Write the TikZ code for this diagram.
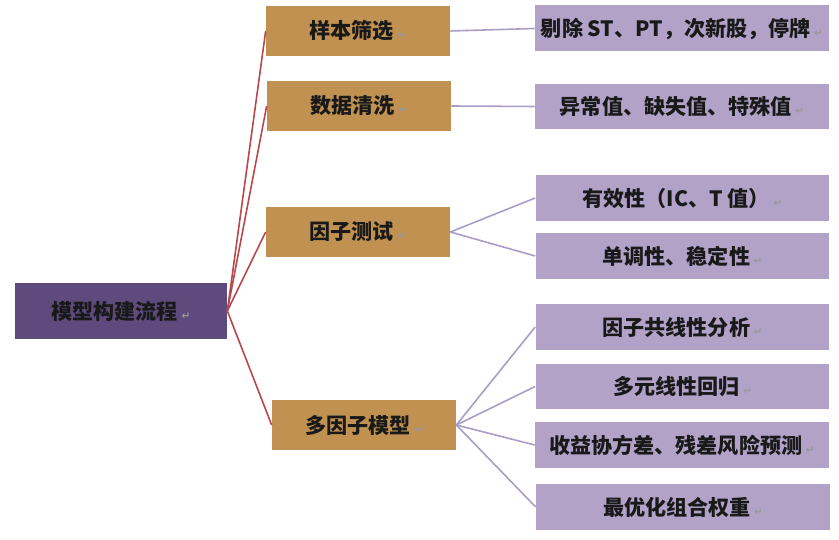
\documentclass[tikz,border=0pt]{standalone}
\usepackage{fontspec}
\setmainfont{Noto Sans CJK SC}
\newfontfamily\markfont{DejaVu Sans}
\definecolor{RootClr}{RGB}{94,74,124}
\definecolor{StepClr}{RGB}{192,145,80}
\definecolor{ItemClr}{RGB}{178,162,200}
\definecolor{TrunkClr}{RGB}{184,71,75}
\definecolor{TwigClr}{RGB}{170,156,196}
\newcommand{\retmark}{\,{\markfont\fontsize{6}{6}\selectfont\color{black!40}↵}}

\begin{document}
\begin{tikzpicture}[x=0.02cm,y=-0.02cm,
  box/.style={inner sep=0pt,text=black!90,font=\fontsize{12}{14}\selectfont\bfseries},
  rootbox/.style={box,fill=RootClr,minimum width=4.24cm,minimum height=1.12cm},
  stepbox/.style={box,fill=StepClr,minimum width=3.68cm,minimum height=1cm},
  itembox/.style={box,fill=ItemClr,minimum width=5.88cm,minimum height=0.92cm},
  trunk/.style={TrunkClr,line width=0.9pt},
  twig/.style={TwigClr,line width=0.9pt}]
\useasboundingbox (0,0) rectangle (839,540);

\node[rootbox] (root) at (121,311) {模型构建流程\retmark};

\node[stepbox] (sample) at (358,31) {样本筛选\retmark};
\node[stepbox] (clean) at (359,106) {数据清洗\retmark};
\node[stepbox] (test) at (358,232) {因子测试\retmark};
\node[stepbox] (model) at (364,425) {多因子模型\retmark};

\node[itembox] (drop) at (682,28.5) {剔除 ST、PT，次新股，停牌\retmark};
\node[itembox] (missing) at (682,106.5) {异常值、缺失值、特殊值\retmark};
\node[itembox] (valid) at (682.5,198) {有效性（IC、T 值）\retmark};
\node[itembox] (mono) at (682.5,256) {单调性、稳定性\retmark};
\node[itembox] (colin) at (682.5,327) {因子共线性分析\retmark};
\node[itembox] (regr) at (682.5,386.5) {多元线性回归\retmark};
\node[itembox] (cov) at (682,445) {收益协方差、残差风险预测\retmark};
\node[itembox] (weight) at (683,507) {最优化组合权重\retmark};

\foreach \s in {sample,clean,test,model}
  \draw[trunk] (root.east) -- (\s.west);

\draw[twig] (sample.east) -- (drop.west);
\draw[twig] (clean.east) -- (missing.west);
\foreach \t in {valid,mono}
  \draw[twig] (test.east) -- (\t.west);
\foreach \t in {colin,regr,cov,weight}
  \draw[twig] (model.east) -- (\t.west);

\end{tikzpicture}
\end{document}
